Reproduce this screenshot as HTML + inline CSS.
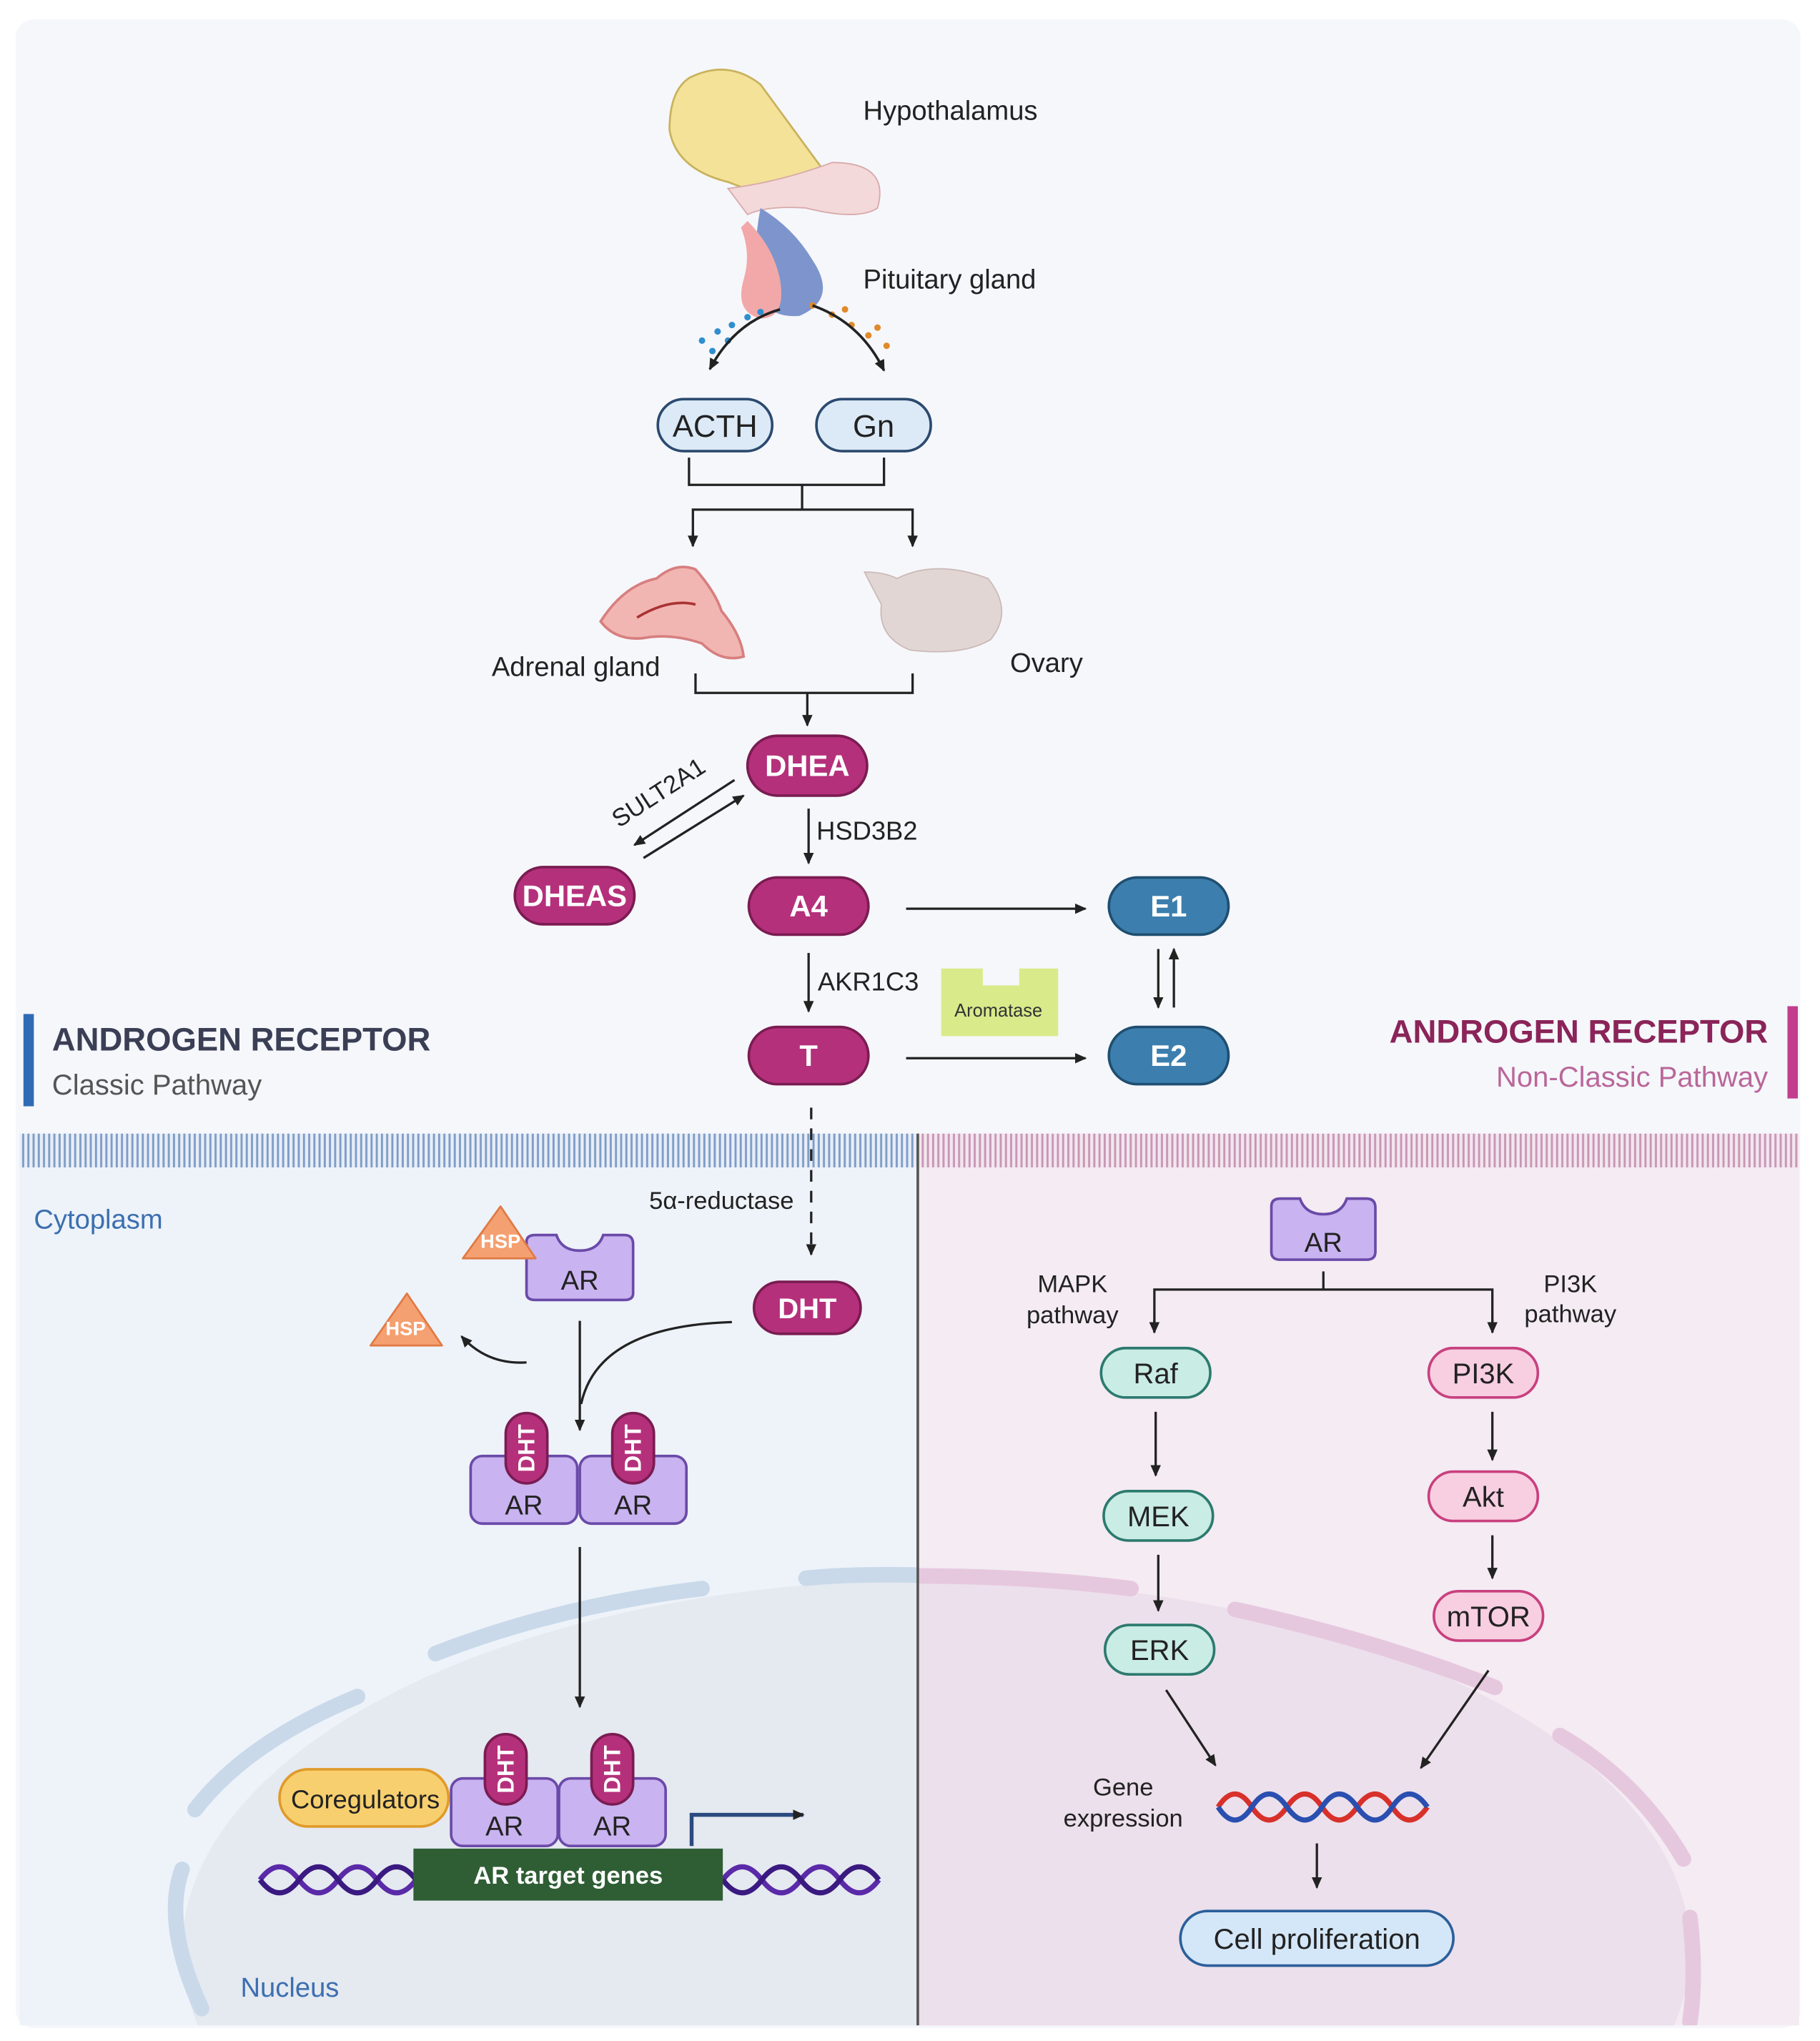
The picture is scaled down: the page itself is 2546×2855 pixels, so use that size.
<!DOCTYPE html>
<html><head><meta charset="utf-8"><style>
html,body{margin:0;padding:0;background:#fff;width:2546px;height:2855px;overflow:hidden}
svg{display:block}
text{font-family:"Liberation Sans",sans-serif}
</style></head><body>
<svg width="2546" height="2855" viewBox="0 0 1400 1570" xmlns="http://www.w3.org/2000/svg">
<defs>
<marker id="ar" markerWidth="10" markerHeight="10" refX="8" refY="5" orient="auto" markerUnits="userSpaceOnUse"><path d="M0,1 L9,5 L0,9 z" fill="#222"/></marker>
<pattern id="mb" width="4" height="26" patternUnits="userSpaceOnUse"><rect width="4" height="26" fill="#e8eef7"/><rect x="1" width="1.6" height="26" fill="#7f9cc7"/></pattern>
<pattern id="mp" width="4" height="26" patternUnits="userSpaceOnUse"><rect width="4" height="26" fill="#f3e6ef"/><rect x="1" width="1.6" height="26" fill="#c896b5"/></pattern>
</defs>
<rect width="1400" height="1570" fill="#fff"/>
<rect x="12" y="15" width="1373" height="1545" rx="14" fill="#f6f7fb"/>
<rect x="15" y="898" width="691" height="660" fill="#eef3f9"/>
<rect x="706" y="898" width="678" height="660" fill="#f4ebf3"/>
<clipPath id="cl"><rect x="15" y="898" width="691" height="660"/></clipPath>
<clipPath id="cr"><rect x="706" y="898" width="678" height="660"/></clipPath>
<ellipse cx="720" cy="1500" rx="580" ry="285" fill="#e5e9f0" clip-path="url(#cl)"/>
<ellipse cx="720" cy="1500" rx="580" ry="285" fill="#ece0ec" clip-path="url(#cr)"/>
<g fill="none" stroke-width="12" stroke-linecap="round">
<g stroke="#c9d9ea" clip-path="url(#cl)">
<path d="M150,1392 Q190,1340 275,1305"/><path d="M335,1272 Q430,1235 540,1222"/><path d="M620,1214 Q660,1210 720,1212"/><path d="M140,1438 Q125,1480 155,1545"/>
</g>
<g stroke="#e6c8de" clip-path="url(#cr)">
<path d="M620,1214 Q760,1208 870,1222"/><path d="M950,1238 Q1060,1262 1150,1298"/><path d="M1200,1335 Q1260,1370 1295,1430"/><path d="M1300,1475 Q1305,1520 1300,1555"/>
</g>
</g>
<rect x="15" y="872" width="691" height="26" fill="url(#mb)"/>
<rect x="706" y="872" width="678" height="26" fill="url(#mp)"/>
<line x1="706" y1="872" x2="706" y2="1558" stroke="#555" stroke-width="2"/>

<path d="M530,60 Q560,45 585,65 L640,140 Q650,160 600,155 L560,140 Q520,130 515,100 Q515,70 530,60z" fill="#f3e297" stroke="#c9b25e" stroke-width="1.5"/>
<path d="M560,145 Q600,140 640,125 Q685,125 675,160 Q660,170 620,160 Q590,158 575,165z" fill="#f3d9d9" stroke="#d8a9ab"/>
<path d="M585,160 Q610,175 625,200 Q645,230 615,243 Q590,245 585,225 Q578,195 585,160z" fill="#7d95cc"/>
<path d="M575,170 Q595,190 600,215 Q605,245 585,245 Q565,240 572,215 Q578,195 570,175z" fill="#f2a8a8"/>
<g fill="#2f8fd0"><circle cx="540" cy="262" r="2.5"/><circle cx="552" cy="255" r="2.5"/><circle cx="563" cy="250" r="2.5"/><circle cx="575" cy="244" r="2.5"/><circle cx="548" cy="270" r="2.5"/><circle cx="560" cy="262" r="2.5"/><circle cx="585" cy="240" r="2.5"/></g>
<g fill="#e08a2a"><circle cx="625" cy="235" r="2.5"/><circle cx="640" cy="242" r="2.5"/><circle cx="655" cy="250" r="2.5"/><circle cx="668" cy="258" r="2.5"/><circle cx="682" cy="266" r="2.5"/><circle cx="650" cy="238" r="2.5"/><circle cx="675" cy="252" r="2.5"/></g>
<path d="M600,238 Q565,248 546,284" fill="none" stroke="#222" stroke-width="2" marker-end="url(#ar)"/>
<path d="M625,235 Q662,248 680,285" fill="none" stroke="#222" stroke-width="2" marker-end="url(#ar)"/>
<text x="664" y="92" font-size="21" fill="#222">Hypothalamus</text>
<text x="664" y="222" font-size="21" fill="#222">Pituitary gland</text>

<rect x="506" y="307" width="88" height="40" rx="20" fill="#dceaf7" stroke="#2b4a6f" stroke-width="2"/>
<text x="550" y="336" font-size="24" text-anchor="middle" fill="#222">ACTH</text>
<rect x="628" y="307" width="88" height="40" rx="20" fill="#dceaf7" stroke="#2b4a6f" stroke-width="2"/>
<text x="672" y="336" font-size="24" text-anchor="middle" fill="#222">Gn</text>
<g fill="none" stroke="#222" stroke-width="1.8">
<path d="M530,352 V373 H680 V352"/><path d="M617,373 V392"/><path d="M533,420 V392 H702 V420"/>
<path d="M533,410 V420" marker-end="url(#ar)"/><path d="M702,410 V420" marker-end="url(#ar)"/>
<path d="M535,518 V533 H702 V518"/><path d="M621,533 V558" marker-end="url(#ar)"/>
</g>
<path d="M462,478 Q480,450 505,445 Q520,432 535,438 Q550,455 555,470 Q570,488 572,505 Q555,510 540,495 Q520,488 500,490 Q475,495 462,478z" fill="#f2b6b2" stroke="#d77f7f" stroke-width="2"/>
<path d="M490,475 Q515,460 535,465" fill="none" stroke="#a33" stroke-width="2"/>
<path d="M665,440 Q680,440 690,445 Q720,430 760,445 Q780,470 762,492 Q740,505 700,500 Q675,490 678,465 Q670,450 665,440z" fill="#e2d6d4" stroke="#cbbab8"/>
<text x="443" y="520" font-size="21" text-anchor="middle" fill="#222">Adrenal gland</text>
<text x="805" y="517" font-size="21" text-anchor="middle" fill="#222">Ovary</text>

<g font-weight="bold" font-size="23" fill="#fff" text-anchor="middle">
<rect x="575" y="566" width="92" height="46" rx="23" fill="#b5307b" stroke="#7a1c52" stroke-width="2"/><text x="621" y="597" fill="#fff">DHEA</text>
<rect x="396" y="667" width="92" height="44" rx="22" fill="#b5307b" stroke="#7a1c52" stroke-width="2"/><text x="442" y="697" fill="#fff">DHEAS</text>
<rect x="576" y="675" width="92" height="44" rx="22" fill="#b5307b" stroke="#7a1c52" stroke-width="2"/><text x="622" y="705" fill="#fff">A4</text>
<rect x="576" y="790" width="92" height="44" rx="22" fill="#b5307b" stroke="#7a1c52" stroke-width="2"/><text x="622" y="820" fill="#fff">T</text>
<rect x="853" y="675" width="92" height="44" rx="22" fill="#3c7fae" stroke="#1f4e70" stroke-width="2"/><text x="899" y="705" fill="#fff">E1</text>
<rect x="853" y="790" width="92" height="44" rx="22" fill="#3c7fae" stroke="#1f4e70" stroke-width="2"/><text x="899" y="820" fill="#fff">E2</text>
</g>
<g fill="none" stroke="#222" stroke-width="1.8">
<path d="M622,622 V664" marker-end="url(#ar)"/>
<path d="M622,733 V778" marker-end="url(#ar)"/>
<path d="M697,699 H835" marker-end="url(#ar)"/>
<path d="M697,814 H835" marker-end="url(#ar)"/>
<path d="M891,730 V775" marker-end="url(#ar)"/>
<path d="M903,775 V730" marker-end="url(#ar)"/>
<path d="M565,600 L488,650" marker-end="url(#ar)"/>
<path d="M495,660 L572,612" marker-end="url(#ar)"/>
<path d="M624,852 V965" stroke-dasharray="9,7" marker-end="url(#ar)"/>
</g>
<text x="628" y="646" font-size="20" fill="#222">HSD3B2</text>
<text x="629" y="762" font-size="20" fill="#222">AKR1C3</text>
<text x="510" y="615" font-size="19" fill="#222" transform="rotate(-33 510 615)" text-anchor="middle">SULT2A1</text>
<path d="M724,745 H756 V758 H784 V745 H814 V797 H724z" fill="#d9ea8b"/>
<text x="768" y="782" font-size="14" text-anchor="middle" fill="#333">Aromatase</text>

<rect x="18" y="780" width="8" height="71" fill="#2f6bb5"/>
<text x="40" y="808" font-size="25" font-weight="bold" fill="#3a3f55">ANDROGEN RECEPTOR</text>
<text x="40" y="842" font-size="22" fill="#555">Classic Pathway</text>
<rect x="1375" y="774" width="8" height="71" fill="#c23d8e"/>
<text x="1360" y="802" font-size="25" font-weight="bold" fill="#8a2459" text-anchor="end">ANDROGEN RECEPTOR</text>
<text x="1360" y="836" font-size="22" fill="#b9679a" text-anchor="end">Non-Classic Pathway</text>

<text x="26" y="945" font-size="21" fill="#3c6fb0">Cytoplasm</text>
<text x="555" y="930" font-size="19" fill="#222" text-anchor="middle">5α-reductase</text>
<rect x="580" y="986" width="82" height="40" rx="20" fill="#b5307b" stroke="#7a1c52" stroke-width="2"/>
<text x="621" y="1014" font-size="22" font-weight="bold" fill="#fff" text-anchor="middle">DHT</text>
<path d="M405,955 Q405,950 412,950 H428 Q432,962 446,962 Q460,962 464,950 H480 Q487,950 487,957 V995 Q487,1000 480,1000 H412 Q405,1000 405,995z" fill="#c9b3f0" stroke="#6a4aa8" stroke-width="2"/>
<text x="446" y="992" font-size="21" text-anchor="middle" fill="#222">AR</text>
<path d="M385,928 L412,968 H356z" fill="#f5a070" stroke="#e07a45" stroke-width="1.5" stroke-linejoin="round"/>
<text x="385" y="960" font-size="15" font-weight="bold" fill="#fff" text-anchor="middle">HSP</text>
<path d="M313,995 L340,1035 H285z" fill="#f5a070" stroke="#e07a45" stroke-width="1.5" stroke-linejoin="round"/>
<text x="312" y="1027" font-size="15" font-weight="bold" fill="#fff" text-anchor="middle">HSP</text>
<g fill="none" stroke="#222" stroke-width="1.8">
<path d="M405,1048 Q375,1050 355,1028" marker-end="url(#ar)"/>
<path d="M446,1016 V1100" marker-end="url(#ar)"/>
<path d="M563,1017 Q460,1020 447,1080"/>
<path d="M446,1190 V1313" marker-end="url(#ar)"/>
<path d="M532,1420 V1396 H618" stroke="#2b4a7f" stroke-width="3" marker-end="url(#ar)"/>
</g>
<rect x="362" y="1120" width="82" height="52" rx="9" fill="#c9b3f0" stroke="#6a4aa8" stroke-width="2"/>
<rect x="446" y="1120" width="82" height="52" rx="9" fill="#c9b3f0" stroke="#6a4aa8" stroke-width="2"/>
<text x="403" y="1165" font-size="21" text-anchor="middle" fill="#222">AR</text>
<text x="487" y="1165" font-size="21" text-anchor="middle" fill="#222">AR</text>
<rect x="389" y="1087" width="32" height="54" rx="16" fill="#b5307b" stroke="#7a1c52" stroke-width="2"/>
<rect x="471" y="1087" width="32" height="54" rx="16" fill="#b5307b" stroke="#7a1c52" stroke-width="2"/>
<text x="405" y="1120" font-size="18" font-weight="bold" fill="#fff" text-anchor="middle" transform="rotate(-90 405 1114)">DHT</text>
<text x="487" y="1120" font-size="18" font-weight="bold" fill="#fff" text-anchor="middle" transform="rotate(-90 487 1114)">DHT</text>
<g fill="none" stroke-width="4">
<path d="M200,1446 Q215,1426 230,1446 T260,1446 T290,1446 T320,1446 M556,1446 Q571,1426 586,1446 T616,1446 T646,1446 T676,1446" stroke="#5a2aa8"/>
<path d="M200,1446 Q215,1466 230,1446 T260,1446 T290,1446 T320,1446 M556,1446 Q571,1466 586,1446 T616,1446 T646,1446 T676,1446" stroke="#3a1a80"/>
</g>
<rect x="318" y="1422" width="238" height="40" fill="#2f5e35"/>
<text x="437" y="1449" font-size="19" font-weight="bold" fill="#fff" text-anchor="middle">AR target genes</text>
<rect x="347" y="1368" width="82" height="52" rx="9" fill="#c9b3f0" stroke="#6a4aa8" stroke-width="2"/>
<rect x="430" y="1368" width="82" height="52" rx="9" fill="#c9b3f0" stroke="#6a4aa8" stroke-width="2"/>
<text x="388" y="1412" font-size="21" text-anchor="middle" fill="#222">AR</text>
<text x="471" y="1412" font-size="21" text-anchor="middle" fill="#222">AR</text>
<rect x="373" y="1334" width="32" height="54" rx="16" fill="#b5307b" stroke="#7a1c52" stroke-width="2"/>
<rect x="455" y="1334" width="32" height="54" rx="16" fill="#b5307b" stroke="#7a1c52" stroke-width="2"/>
<text x="389" y="1367" font-size="18" font-weight="bold" fill="#fff" text-anchor="middle" transform="rotate(-90 389 1361)">DHT</text>
<text x="471" y="1367" font-size="18" font-weight="bold" fill="#fff" text-anchor="middle" transform="rotate(-90 471 1361)">DHT</text>
<rect x="215" y="1361" width="130" height="44" rx="22" fill="#f7cf6e" stroke="#e09a2a" stroke-width="2"/>
<text x="281" y="1391" font-size="20" text-anchor="middle" fill="#222">Coregulators</text>
<text x="185" y="1536" font-size="21" fill="#3c6fb0">Nucleus</text>

<path d="M978,928 Q978,922 985,922 H1000 Q1004,934 1018,934 Q1032,934 1036,922 H1051 Q1058,922 1058,929 V963 Q1058,969 1051,969 H985 Q978,969 978,963z" fill="#c9b3f0" stroke="#6a4aa8" stroke-width="2"/>
<text x="1018" y="963" font-size="21" text-anchor="middle" fill="#222">AR</text>
<g fill="none" stroke="#222" stroke-width="1.8">
<path d="M1018,978 V992"/><path d="M888,1025 V992 H1148 V1025"/>
<path d="M888,1015 V1025" marker-end="url(#ar)"/><path d="M1148,1015 V1025" marker-end="url(#ar)"/>
<path d="M889,1086 V1135" marker-end="url(#ar)"/>
<path d="M891,1196 V1239" marker-end="url(#ar)"/>
<path d="M1148,1086 V1123" marker-end="url(#ar)"/>
<path d="M1148,1181 V1214" marker-end="url(#ar)"/>
<path d="M897,1300 L935,1358" marker-end="url(#ar)"/>
<path d="M1145,1285 L1093,1360" marker-end="url(#ar)"/>
<path d="M1013,1418 V1452" marker-end="url(#ar)"/>
</g>
<text x="825" y="994" font-size="19" text-anchor="middle" fill="#222">MAPK</text>
<text x="825" y="1018" font-size="19" text-anchor="middle" fill="#222">pathway</text>
<text x="1208" y="994" font-size="19" text-anchor="middle" fill="#222">PI3K</text>
<text x="1208" y="1017" font-size="19" text-anchor="middle" fill="#222">pathway</text>
<g font-size="22" text-anchor="middle" fill="#222">
<rect x="847" y="1037" width="84" height="38" rx="19" fill="#c9ece4" stroke="#2c7a6e" stroke-width="2"/><text x="889" y="1064">Raf</text>
<rect x="849" y="1147" width="84" height="38" rx="19" fill="#c9ece4" stroke="#2c7a6e" stroke-width="2"/><text x="891" y="1174">MEK</text>
<rect x="850" y="1250" width="84" height="38" rx="19" fill="#c9ece4" stroke="#2c7a6e" stroke-width="2"/><text x="892" y="1277">ERK</text>
<rect x="1099" y="1037" width="84" height="38" rx="19" fill="#f7cfe0" stroke="#c8407f" stroke-width="2"/><text x="1141" y="1064">PI3K</text>
<rect x="1099" y="1132" width="84" height="38" rx="19" fill="#f7cfe0" stroke="#c8407f" stroke-width="2"/><text x="1141" y="1159">Akt</text>
<rect x="1103" y="1224" width="84" height="38" rx="19" fill="#f7cfe0" stroke="#c8407f" stroke-width="2"/><text x="1145" y="1251">mTOR</text>
</g>
<text x="864" y="1381" font-size="19" text-anchor="middle" fill="#222">Gene</text>
<text x="864" y="1405" font-size="19" text-anchor="middle" fill="#222">expression</text>
<g fill="none" stroke-width="4">
<path d="M937,1390 Q950,1370 963,1390 T990,1390 T1017,1390 T1044,1390 T1071,1390 T1098,1390" stroke="#d8302a"/>
<path d="M937,1390 Q950,1410 963,1390 T990,1390 T1017,1390 T1044,1390 T1071,1390 T1098,1390" stroke="#2a4fb0"/>
</g>
<rect x="908" y="1470" width="210" height="42" rx="21" fill="#d4e7f8" stroke="#2b5f9a" stroke-width="2"/>
<text x="1013" y="1499" font-size="22" text-anchor="middle" fill="#222">Cell proliferation</text>
</svg>
</body></html>
